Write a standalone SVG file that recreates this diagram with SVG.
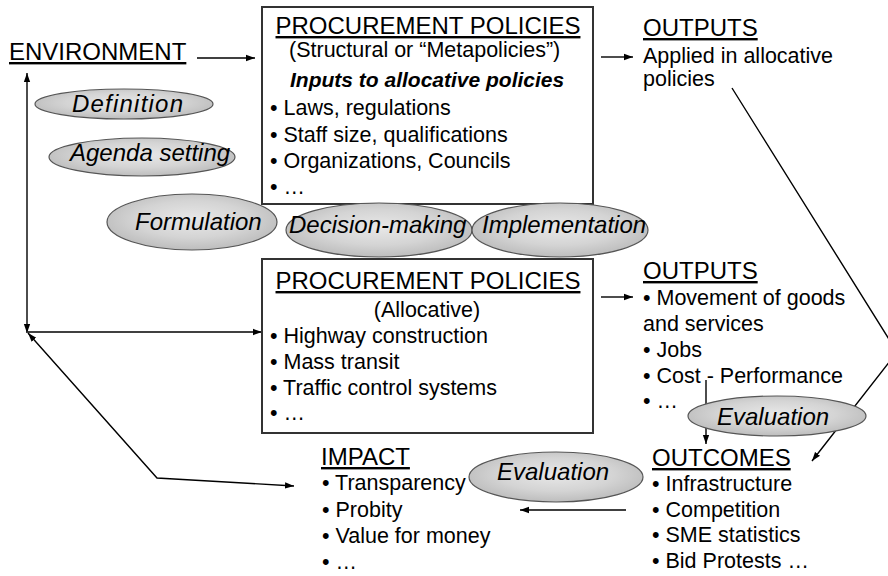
<svg xmlns="http://www.w3.org/2000/svg" width="888" height="576" viewBox="0 0 888 576">
<defs>
<radialGradient id="eg" cx="50%" cy="45%" r="55%">
<stop offset="0" stop-color="#e8e8e8"/>
<stop offset="0.6" stop-color="#d4d4d4"/>
<stop offset="1" stop-color="#bdbdbd"/>
</radialGradient>
<marker id="ah" viewBox="0 0 10 10" refX="10" refY="5" markerWidth="9" markerHeight="9" markerUnits="userSpaceOnUse" orient="auto-start-reverse">
<path d="M0,1.5 L10,5 L0,8.5 Z" fill="#000"/>
</marker>
</defs>
<style>
text{font-family:"Liberation Sans",Arial,sans-serif;fill:#000}
.h{font-size:24px;text-decoration:underline}
.b{font-size:21.5px}
.bi{font-size:21px;font-weight:bold;font-style:italic}
.e{font-size:24px;font-style:italic}
.box{fill:#fff;stroke:#333;stroke-width:2}
.ell{fill:url(#eg);stroke:#555;stroke-width:1.2}
.c{fill:none;stroke:#000;stroke-width:1.4}
</style>
<rect width="888" height="576" fill="#fff"/>

<g id="connectors">
<line class="c" x1="197" y1="58" x2="255" y2="58" marker-end="url(#ah)"/>
<line class="c" x1="601" y1="57" x2="633" y2="57" marker-end="url(#ah)"/>
<line class="c" x1="601" y1="297" x2="633" y2="297" marker-end="url(#ah)"/>
<line class="c" x1="27" y1="73" x2="27" y2="333" marker-start="url(#ah)" marker-end="url(#ah)"/>
<line class="c" x1="28" y1="332" x2="262" y2="332" marker-end="url(#ah)"/>
<polyline class="c" points="28,333 157,478 294,486" marker-start="url(#ah)" marker-end="url(#ah)"/>
<polyline class="c" points="732,88 897,352 812,461" marker-end="url(#ah)"/>
<line class="c" x1="706" y1="380" x2="706" y2="444" marker-end="url(#ah)"/>
<line class="c" x1="626" y1="510" x2="520" y2="510" marker-end="url(#ah)"/>
</g>

<g id="environment">
<text class="h" x="9" y="60">ENVIRONMENT</text>
</g>

<g id="structural-box">
<rect class="box" x="262" y="7" width="331" height="197"/>
<text class="h" x="428" y="34" text-anchor="middle">PROCUREMENT POLICIES</text>
<text class="b" x="289" y="57">(Structural or “Metapolicies”)</text>
<text class="bi" x="290" y="87">Inputs to allocative policies</text>
<text class="b" x="270" y="115">• Laws, regulations</text>
<text class="b" x="270" y="142">• Staff size, qualifications</text>
<text class="b" x="270" y="168">• Organizations, Councils</text>
<text class="b" x="270" y="194">• …</text>
</g>

<g id="allocative-box">
<rect class="box" x="262" y="259" width="331" height="174"/>
<text class="h" x="428" y="289" text-anchor="middle">PROCUREMENT POLICIES</text>
<text class="b" x="427" y="317" text-anchor="middle">(Allocative)</text>
<text class="b" x="270" y="343">• Highway construction</text>
<text class="b" x="270" y="369">• Mass transit</text>
<text class="b" x="270" y="395">• Traffic control systems</text>
<text class="b" x="270" y="420">• …</text>
</g>

<g id="outputs-1">
<text class="h" x="643" y="36">OUTPUTS</text>
<text class="b" x="643" y="63">Applied in allocative</text>
<text class="b" x="643" y="86">policies</text>
</g>

<g id="outputs-2">
<text class="h" x="643" y="279">OUTPUTS</text>
<text class="b" x="643" y="305">• Movement of goods</text>
<text class="b" x="643" y="331">and services</text>
<text class="b" x="643" y="357">• Jobs</text>
<text class="b" x="643" y="383">• Cost - Performance</text>
<text class="b" x="643" y="408">• …</text>
</g>

<g id="outcomes">
<text class="h" x="652" y="466">OUTCOMES</text>
<text class="b" x="652" y="491">• Infrastructure</text>
<text class="b" x="652" y="517">• Competition</text>
<text class="b" x="652" y="542">• SME statistics</text>
<text class="b" x="652" y="568">• Bid Protests …</text>
</g>

<g id="impact">
<text class="h" x="321" y="465">IMPACT</text>
<text class="b" x="322" y="490">• Transparency</text>
<text class="b" x="322" y="517">• Probity</text>
<text class="b" x="322" y="543">• Value for money</text>
<text class="b" x="322" y="569">• …</text>
</g>

<g id="definition">
<ellipse class="ell" cx="124" cy="104" rx="89" ry="15"/>
<text class="e" x="72" y="112" textLength="111" lengthAdjust="spacing">Definition</text>
</g>
<g id="agenda-setting">
<ellipse class="ell" cx="142" cy="157" rx="93" ry="19"/>
<text class="e" x="70" y="161">Agenda setting</text>
</g>
<g id="formulation">
<ellipse class="ell" cx="192" cy="222" rx="85" ry="28"/>
<text class="e" x="135" y="230">Formulation</text>
</g>
<g id="decision-making">
<ellipse class="ell" cx="379" cy="230" rx="93" ry="27"/>
<text class="e" x="289" y="233">Decision-making</text>
</g>
<g id="implementation">
<ellipse class="ell" cx="560" cy="230" rx="88" ry="27"/>
<text class="e" x="482" y="233">Implementation</text>
</g>
<g id="evaluation-1">
<ellipse class="ell" cx="777" cy="416" rx="89" ry="20"/>
<text class="e" x="717" y="425">Evaluation</text>
</g>
<g id="evaluation-2">
<ellipse class="ell" cx="556" cy="477" rx="87" ry="25"/>
<text class="e" x="497" y="480">Evaluation</text>
</g>
</svg>
